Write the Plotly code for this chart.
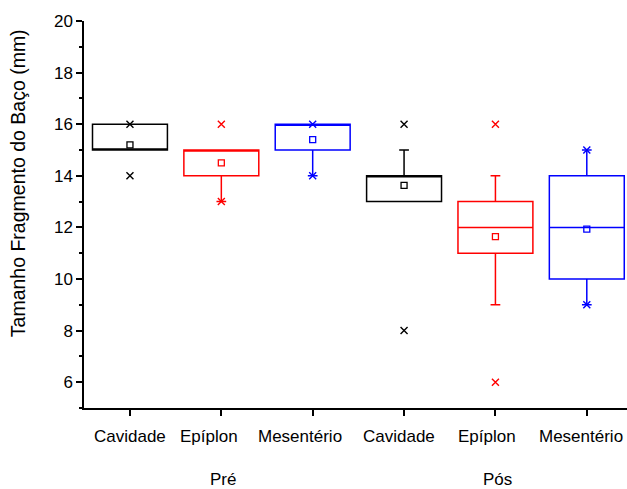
import plotly.graph_objects as go

categories = ["Cavidade", "Epíplon", "Mesentério", "Cavidade", "Epíplon", "Mesentério"]
groups = ["Pré", "Pós"]
colors = ["#000000", "#FF0000", "#0000FF", "#000000", "#FF0000", "#0000FF"]
q1 = [15, 14, 15, 13, 11, 10]
median = [15, 15, 16, 14, 12, 12]
q3 = [16, 15, 16, 14, 13, 14]
whisk_lo = [15, 13, 14, 13, 9, 9]
whisk_hi = [16, 15, 16, 15, 14, 15]
mean = [15.2, 14.5, 15.4, 13.63, 11.64, 11.93]
min_v = [14, 13, 14, 8, 6, 9]
max_v = [16, 16, 16, 16, 16, 15]
y_title = "Tamanho Fragmento do Baço (mm)"

# small horizontal nudges of the category labels (pixels), as in the original
label_shift = [0, -12, -13, -5, -8, -6]

FONT = "Liberation Sans, Arial, sans-serif"
xpos = list(range(1, len(categories) + 1))

fig = go.Figure()
for i, x in enumerate(xpos):
    c = colors[i]
    fig.add_trace(go.Box(
        x=[x], q1=[q1[i]], median=[median[i]], q3=[q3[i]],
        lowerfence=[whisk_lo[i]], upperfence=[whisk_hi[i]],
        width=0.82, whiskerwidth=0.13,
        line=dict(color=c, width=1.5), fillcolor="rgba(0,0,0,0)",
        boxpoints=False, showlegend=False, hoverinfo="skip",
    ))
    fig.add_trace(go.Scatter(
        x=[x], y=[mean[i]], mode="markers",
        marker=dict(symbol="square-open", size=6, color=c, line=dict(width=1.3, color=c)),
        showlegend=False, hoverinfo="skip",
    ))
    fig.add_trace(go.Scatter(
        x=[x, x], y=[min_v[i], max_v[i]], mode="markers",
        marker=dict(symbol="x-thin-open", size=7, color=c, line=dict(width=1.4, color=c)),
        showlegend=False, hoverinfo="skip",
    ))

fig.update_layout(
    width=627, height=489,
    margin=dict(l=84, r=0, t=21, b=81),
    plot_bgcolor="white", paper_bgcolor="white",
    font=dict(family=FONT, size=17, color="black"),
    xaxis=dict(
        range=[0.497, 6.44], tickmode="array", tickvals=xpos, showticklabels=False,
        showline=True, linecolor="black", linewidth=1.5,
        ticks="outside", ticklen=6, tickwidth=1.5, tickcolor="black",
        showgrid=False, zeroline=False, automargin=False,
    ),
    yaxis=dict(
        range=[5, 20], tickmode="array", tickvals=[6, 8, 10, 12, 14, 16, 18, 20],
        showline=True, linecolor="black", linewidth=1.5,
        ticks="outside", ticklen=6, tickwidth=1.5, tickcolor="black",
        minor=dict(tickvals=[5, 7, 9, 11, 13, 15, 17, 19], ticks="outside", ticklen=3,
                   tickwidth=1.5, tickcolor="black"),
        showgrid=False, zeroline=False, automargin=False,
        tickfont=dict(family=FONT, size=17),
    ),
)

for i, x in enumerate(xpos):
    fig.add_annotation(
        x=x, xref="x", y=-0.0465, yref="paper", text=categories[i],
        xshift=label_shift[i], showarrow=False, xanchor="center", yanchor="top",
        borderpad=0, font=dict(family=FONT, size=17),
    )

fig.add_annotation(
    x=-0.1215, xref="paper", y=0.581, yref="paper", text=y_title, textangle=-90,
    showarrow=False, xanchor="center", yanchor="middle", font=dict(family=FONT, size=19.5),
)

for gi, g in enumerate(groups):
    fig.add_annotation(
        x=2 + 3 * gi, xref="x", y=-0.184, yref="paper", text=g, xshift=2,
        showarrow=False, yanchor="middle", borderpad=0, font=dict(family=FONT, size=17),
    )

fig.write_html("out.html")
